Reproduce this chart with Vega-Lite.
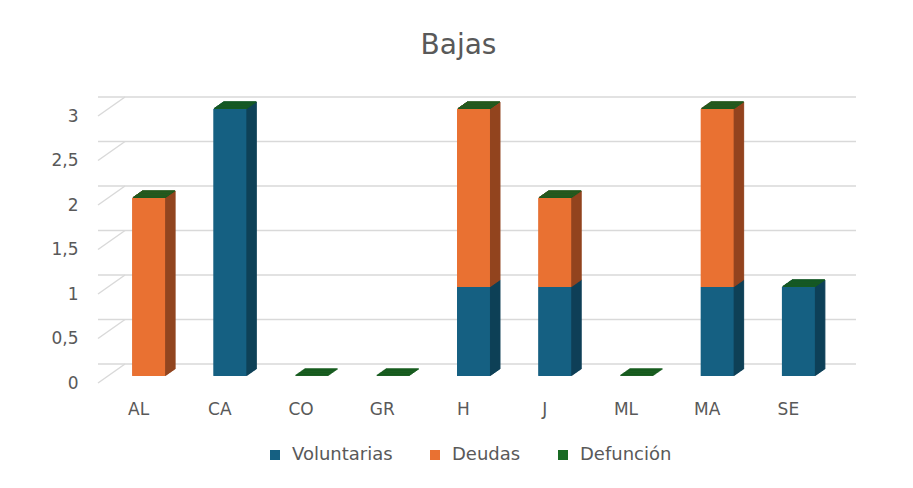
{
  "$schema": "https://vega.github.io/schema/vega-lite/v6.json",
  "width": 731,
  "height": 267,
  "autosize": {"type": "none"},
  "padding": {"left": 98, "top": 116, "right": 84, "bottom": 105},
  "background": "white",
  "title": {"text": "Bajas", "fontSize": 28, "font": "DejaVu Sans", "fontWeight": "normal", "color": "#595959", "anchor": "middle", "frame": "group", "offset": 36, "dx": -5},
  "datasets": {
    "bajas": [
      {"cat": "AL", "serie": "Voluntarias", "valor": 0},
      {"cat": "AL", "serie": "Deudas", "valor": 2},
      {"cat": "AL", "serie": "Defunción", "valor": 0},
      {"cat": "CA", "serie": "Voluntarias", "valor": 3},
      {"cat": "CA", "serie": "Deudas", "valor": 0},
      {"cat": "CA", "serie": "Defunción", "valor": 0},
      {"cat": "CO", "serie": "Voluntarias", "valor": 0},
      {"cat": "CO", "serie": "Deudas", "valor": 0},
      {"cat": "CO", "serie": "Defunción", "valor": 0},
      {"cat": "GR", "serie": "Voluntarias", "valor": 0},
      {"cat": "GR", "serie": "Deudas", "valor": 0},
      {"cat": "GR", "serie": "Defunción", "valor": 0},
      {"cat": "H", "serie": "Voluntarias", "valor": 1},
      {"cat": "H", "serie": "Deudas", "valor": 2},
      {"cat": "H", "serie": "Defunción", "valor": 0},
      {"cat": "J", "serie": "Voluntarias", "valor": 1},
      {"cat": "J", "serie": "Deudas", "valor": 1},
      {"cat": "J", "serie": "Defunción", "valor": 0},
      {"cat": "ML", "serie": "Voluntarias", "valor": 0},
      {"cat": "ML", "serie": "Deudas", "valor": 0},
      {"cat": "ML", "serie": "Defunción", "valor": 0},
      {"cat": "MA", "serie": "Voluntarias", "valor": 1},
      {"cat": "MA", "serie": "Deudas", "valor": 2},
      {"cat": "MA", "serie": "Defunción", "valor": 0},
      {"cat": "SE", "serie": "Voluntarias", "valor": 1},
      {"cat": "SE", "serie": "Deudas", "valor": 0},
      {"cat": "SE", "serie": "Defunción", "valor": 0}
    ],
    "grid": [{"v": 0}, {"v": 0.5}, {"v": 1}, {"v": 1.5}, {"v": 2}, {"v": 2.5}, {"v": 3}]
  },
  "layer": [
    {
      "data": {"name": "grid"},
      "mark": {"type": "rule", "color": "#d9d9d9", "strokeWidth": 1.5, "xOffset": 27, "x2Offset": 30, "yOffset": -19},
      "encoding": {
        "y": {"field": "v", "type": "quantitative", "title": null}
      }
    },
    {
      "data": {"name": "grid"},
      "mark": {"type": "rule", "color": "#d9d9d9", "strokeWidth": 1.5, "xOffset": -40.6, "x2Offset": -13.6, "y2Offset": -19},
      "encoding": {
        "x": {"datum": "AL", "type": "nominal"},
        "x2": {"datum": "AL"},
        "y": {"field": "v", "type": "quantitative", "title": null},
        "y2": {"field": "v"}
      }
    },
    {
      "data": {"name": "bajas"},
      "transform": [{"filter": "datum.valor > 0 || datum.serie === 'Defunción'"}],
      "encoding": {
        "x": {"field": "cat", "type": "nominal", "title": null, "scale": {"domain": ["AL", "CA", "CO", "GR", "H", "J", "ML", "MA", "SE"], "paddingInner": 0, "paddingOuter": 0}},
        "y": {"field": "valor", "type": "quantitative", "stack": "zero", "title": null, "scale": {"domain": [0, 3], "nice": false}},
        "order": {"field": "serie", "sort": "descending"}
      },
      "layer": [
        {
          "encoding": {
            "fill": {"value": "#0f4158", "condition": [{"test": "datum.serie === 'Deudas'", "value": "#934520"}, {"test": "datum.serie === 'Defunción'", "value": "#175c1f"}]},
            "stroke": {"value": "#0f4158", "condition": [{"test": "datum.serie === 'Deudas'", "value": "#934520"}, {"test": "datum.serie === 'Defunción'", "value": "#175c1f"}]}
          },
          "layer": [
            {"mark": {"type": "bar", "width": {"band": 0.406}, "strokeWidth": 1, "xOffset": 20, "yOffset": -14, "y2Offset": -14}},
            {"mark": {"type": "bar", "width": {"band": 0.406}, "strokeWidth": 1, "xOffset": 19, "yOffset": -13.3, "y2Offset": -13.3}},
            {"mark": {"type": "bar", "width": {"band": 0.406}, "strokeWidth": 1, "xOffset": 18, "yOffset": -12.6, "y2Offset": -12.6}},
            {"mark": {"type": "bar", "width": {"band": 0.406}, "strokeWidth": 1, "xOffset": 17, "yOffset": -11.9, "y2Offset": -11.9}},
            {"mark": {"type": "bar", "width": {"band": 0.406}, "strokeWidth": 1, "xOffset": 16, "yOffset": -11.2, "y2Offset": -11.2}},
            {"mark": {"type": "bar", "width": {"band": 0.406}, "strokeWidth": 1, "xOffset": 15, "yOffset": -10.5, "y2Offset": -10.5}},
            {"mark": {"type": "bar", "width": {"band": 0.406}, "strokeWidth": 1, "xOffset": 14, "yOffset": -9.8, "y2Offset": -9.8}},
            {"mark": {"type": "bar", "width": {"band": 0.406}, "strokeWidth": 1, "xOffset": 13, "yOffset": -9.1, "y2Offset": -9.1}},
            {"mark": {"type": "bar", "width": {"band": 0.406}, "strokeWidth": 1, "xOffset": 12, "yOffset": -8.4, "y2Offset": -8.4}},
            {"mark": {"type": "bar", "width": {"band": 0.406}, "strokeWidth": 1, "xOffset": 11, "yOffset": -7.7, "y2Offset": -7.7}}
          ]
        },
        {
          "mark": {"type": "bar", "width": {"band": 0.406}, "strokeWidth": 0, "xOffset": 10, "yOffset": -7, "y2Offset": -7},
          "encoding": {
            "fill": {"field": "serie", "type": "nominal", "scale": {"domain": ["Voluntarias", "Deudas", "Defunción"], "range": ["#156082", "#E97132", "#196B24"]},
              "legend": {"title": null, "orient": "none", "legendX": 168, "legendY": 330, "direction": "horizontal", "symbolType": "square", "symbolSize": 100, "symbolStrokeWidth": 0, "labelFontSize": 18, "labelFont": "DejaVu Sans", "labelColor": "#595959", "columnPadding": 33, "labelOffset": 8}}
          }
        }
      ]
    }
  ],
  "config": {
    "view": {"stroke": null},
    "axis": {"labelFont": "DejaVu Sans", "labelFontSize": 17, "labelColor": "#595959", "domain": false, "ticks": false, "grid": false},
    "axisY": {"values": [0, 0.5, 1, 1.5, 2, 2.5, 3], "labelExpr": "replace(format(datum.value, '~g'), '.', ',')", "labelPadding": 20},
    "axisX": {"labelPadding": 18, "labelAngle": 0}
  }
}
